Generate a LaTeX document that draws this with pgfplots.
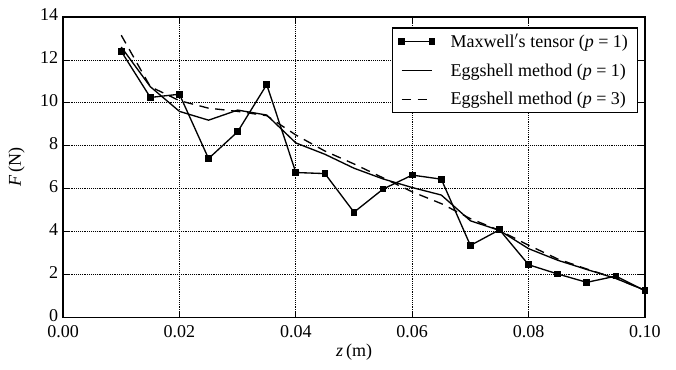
\documentclass[border=0pt]{standalone}
\usepackage{pgfplots}
\pgfplotsset{compat=1.18}
\usepackage{fontspec}
\setmainfont{Liberation Serif}
\begin{document}
\begin{tikzpicture}
\begin{axis}[
  scale only axis,
  width=436pt, height=225pt,
  xmin=0, xmax=0.1, ymin=0, ymax=14,
  xtick={0,0.02,0.04,0.06,0.08,0.1},
  ytick={0,2,4,6,8,10,12,14},
  xticklabel style={inner sep=1pt, yshift=-5pt, /pgf/number format/fixed, /pgf/number format/fixed zerofill, /pgf/number format/precision=2},
  scaled x ticks=false,
  /pgf/number format/assume math mode=true,
  tick label style={font=\fontsize{13.5}{15}\selectfont},
  yticklabel style={inner sep=1pt, xshift=-2.5pt, yshift=1.5pt},
  label style={font=\fontsize{13.5}{15}\selectfont},
  xlabel={\textit{z}\,(m)},
  ylabel={\textit{F}\,(N)},
  xlabel style={yshift=0pt},
  ylabel style={yshift=7pt},
  grid=major,
  major grid style={densely dotted, black, line width=0.6pt},
  axis line style={line width=1pt},
  tick style={black, line width=0.6pt},
  major tick length=5pt,
  legend image code/.code={\draw[#1] plot coordinates {(0cm,0cm) (0.8cm,0cm)};},
  legend style={at={(rel axis cs:0.988,0.966)}, anchor=north east, draw=black, line width=1pt, font=\fontsize{13.5}{15}\selectfont, row sep=6.5pt, column sep=10pt, inner xsep=5pt, inner ysep=2.5pt},
  legend cell align=left,
]
\addplot[black, line width=1pt, mark=square*, mark size=2pt] coordinates {
(0.010,12.40) (0.015,10.25) (0.020,10.40) (0.025,7.40) (0.030,8.65)
(0.035,10.85) (0.040,6.75) (0.045,6.70) (0.050,4.90) (0.055,5.98)
(0.060,6.63) (0.065,6.44) (0.070,3.35) (0.075,4.08) (0.080,2.45)
(0.085,2.02) (0.090,1.63) (0.095,1.92) (0.100,1.24)};
\addlegendentry{Maxwell$'$s tensor (\textit{p} = 1)}
\addplot[black, line width=1pt] coordinates {
(0.010,12.60) (0.015,10.75) (0.020,9.60) (0.025,9.19) (0.030,9.66)
(0.035,9.43) (0.040,8.13) (0.045,7.60) (0.050,6.95) (0.055,6.45)
(0.060,6.05) (0.065,5.70) (0.070,4.50) (0.075,4.05) (0.080,3.20)
(0.085,2.66) (0.090,2.23) (0.095,1.81) (0.100,1.26)};
\addlegendentry{Eggshell method (\textit{p} = 1)}
\addplot[black, line width=1pt, dash pattern=on 7pt off 5pt] coordinates {
(0.010,13.15) (0.015,10.75) (0.020,10.10) (0.025,9.75) (0.030,9.60)
(0.035,9.40) (0.040,8.50) (0.045,7.75) (0.050,7.15) (0.055,6.50)
(0.060,5.85) (0.065,5.30) (0.070,4.60) (0.075,4.05) (0.080,3.36)
(0.085,2.72) (0.090,2.25) (0.095,1.82) (0.100,1.26)};
\addlegendentry{Eggshell method (\textit{p} = 3)}
\end{axis}
\path ([shift={(-47.25pt,-39pt)}]current axis.south west) rectangle ([shift={(23.25pt,12.75pt)}]current axis.north east);
\end{tikzpicture}
\end{document}
